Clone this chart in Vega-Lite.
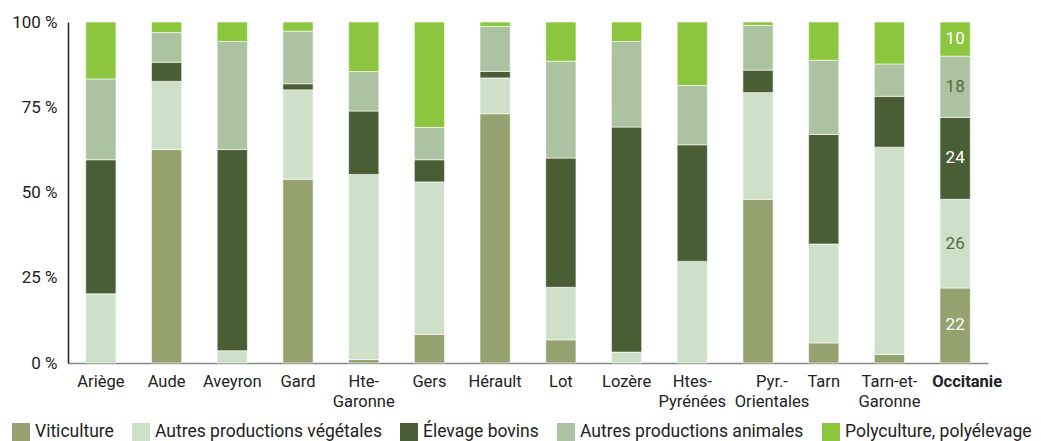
{
  "$schema": "https://vega.github.io/schema/vega-lite/v6.json",
  "width": 920,
  "height": 341,
  "autosize": {"type": "none"},
  "padding": {"left": 68, "top": 22, "right": 53, "bottom": 78},
  "config": {"view": {"stroke": null}, "font": "Roboto"},
  "data": {"values": [
    {"r": "Ariège", "c": "Autres productions végétales", "o": 2, "v": 20.3},
    {"r": "Ariège", "c": "Élevage bovins", "o": 3, "v": 39.3},
    {"r": "Ariège", "c": "Autres productions animales", "o": 4, "v": 23.7},
    {"r": "Ariège", "c": "Polyculture, polyélevage", "o": 5, "v": 16.7},
    {"r": "Aude", "c": "Viticulture", "o": 1, "v": 62.6},
    {"r": "Aude", "c": "Autres productions végétales", "o": 2, "v": 20.0},
    {"r": "Aude", "c": "Élevage bovins", "o": 3, "v": 5.6},
    {"r": "Aude", "c": "Autres productions animales", "o": 4, "v": 8.7},
    {"r": "Aude", "c": "Polyculture, polyélevage", "o": 5, "v": 3.1},
    {"r": "Aveyron", "c": "Autres productions végétales", "o": 2, "v": 3.6},
    {"r": "Aveyron", "c": "Élevage bovins", "o": 3, "v": 59.0},
    {"r": "Aveyron", "c": "Autres productions animales", "o": 4, "v": 31.7},
    {"r": "Aveyron", "c": "Polyculture, polyélevage", "o": 5, "v": 5.7},
    {"r": "Gard", "c": "Viticulture", "o": 1, "v": 53.9},
    {"r": "Gard", "c": "Autres productions végétales", "o": 2, "v": 26.2},
    {"r": "Gard", "c": "Élevage bovins", "o": 3, "v": 1.8},
    {"r": "Gard", "c": "Autres productions animales", "o": 4, "v": 15.4},
    {"r": "Gard", "c": "Polyculture, polyélevage", "o": 5, "v": 2.7},
    {"r": "Hte-Garonne", "c": "Viticulture", "o": 1, "v": 1.0},
    {"r": "Hte-Garonne", "c": "Autres productions végétales", "o": 2, "v": 54.3},
    {"r": "Hte-Garonne", "c": "Élevage bovins", "o": 3, "v": 18.6},
    {"r": "Hte-Garonne", "c": "Autres productions animales", "o": 4, "v": 11.6},
    {"r": "Hte-Garonne", "c": "Polyculture, polyélevage", "o": 5, "v": 14.5},
    {"r": "Gers", "c": "Viticulture", "o": 1, "v": 8.4},
    {"r": "Gers", "c": "Autres productions végétales", "o": 2, "v": 44.7},
    {"r": "Gers", "c": "Élevage bovins", "o": 3, "v": 6.5},
    {"r": "Gers", "c": "Autres productions animales", "o": 4, "v": 9.5},
    {"r": "Gers", "c": "Polyculture, polyélevage", "o": 5, "v": 30.9},
    {"r": "Hérault", "c": "Viticulture", "o": 1, "v": 73.1},
    {"r": "Hérault", "c": "Autres productions végétales", "o": 2, "v": 10.5},
    {"r": "Hérault", "c": "Élevage bovins", "o": 3, "v": 1.9},
    {"r": "Hérault", "c": "Autres productions animales", "o": 4, "v": 13.2},
    {"r": "Hérault", "c": "Polyculture, polyélevage", "o": 5, "v": 1.3},
    {"r": "Lot", "c": "Viticulture", "o": 1, "v": 6.8},
    {"r": "Lot", "c": "Autres productions végétales", "o": 2, "v": 15.4},
    {"r": "Lot", "c": "Élevage bovins", "o": 3, "v": 37.9},
    {"r": "Lot", "c": "Autres productions animales", "o": 4, "v": 28.4},
    {"r": "Lot", "c": "Polyculture, polyélevage", "o": 5, "v": 11.5},
    {"r": "Lozère", "c": "Autres productions végétales", "o": 2, "v": 3.2},
    {"r": "Lozère", "c": "Élevage bovins", "o": 3, "v": 66.0},
    {"r": "Lozère", "c": "Autres productions animales", "o": 4, "v": 25.1},
    {"r": "Lozère", "c": "Polyculture, polyélevage", "o": 5, "v": 5.7},
    {"r": "Htes-Pyrénées", "c": "Autres productions végétales", "o": 2, "v": 29.8},
    {"r": "Htes-Pyrénées", "c": "Élevage bovins", "o": 3, "v": 34.2},
    {"r": "Htes-Pyrénées", "c": "Autres productions animales", "o": 4, "v": 17.4},
    {"r": "Htes-Pyrénées", "c": "Polyculture, polyélevage", "o": 5, "v": 18.6},
    {"r": "Pyr.-Orientales", "c": "Viticulture", "o": 1, "v": 48.0},
    {"r": "Pyr.-Orientales", "c": "Autres productions végétales", "o": 2, "v": 31.3},
    {"r": "Pyr.-Orientales", "c": "Élevage bovins", "o": 3, "v": 6.6},
    {"r": "Pyr.-Orientales", "c": "Autres productions animales", "o": 4, "v": 13.1},
    {"r": "Pyr.-Orientales", "c": "Polyculture, polyélevage", "o": 5, "v": 1.0},
    {"r": "Tarn", "c": "Viticulture", "o": 1, "v": 5.9},
    {"r": "Tarn", "c": "Autres productions végétales", "o": 2, "v": 29.0},
    {"r": "Tarn", "c": "Élevage bovins", "o": 3, "v": 32.1},
    {"r": "Tarn", "c": "Autres productions animales", "o": 4, "v": 21.8},
    {"r": "Tarn", "c": "Polyculture, polyélevage", "o": 5, "v": 11.2},
    {"r": "Tarn-et-Garonne", "c": "Viticulture", "o": 1, "v": 2.5},
    {"r": "Tarn-et-Garonne", "c": "Autres productions végétales", "o": 2, "v": 60.8},
    {"r": "Tarn-et-Garonne", "c": "Élevage bovins", "o": 3, "v": 14.9},
    {"r": "Tarn-et-Garonne", "c": "Autres productions animales", "o": 4, "v": 9.5},
    {"r": "Tarn-et-Garonne", "c": "Polyculture, polyélevage", "o": 5, "v": 12.3},
    {"r": "Occitanie", "c": "Viticulture", "o": 1, "v": 22},
    {"r": "Occitanie", "c": "Autres productions végétales", "o": 2, "v": 26},
    {"r": "Occitanie", "c": "Élevage bovins", "o": 3, "v": 24},
    {"r": "Occitanie", "c": "Autres productions animales", "o": 4, "v": 18},
    {"r": "Occitanie", "c": "Polyculture, polyélevage", "o": 5, "v": 10}
  ]},
  "encoding": {
    "x": {
      "field": "r", "type": "nominal", "sort": null,
      "scale": {"paddingInner": 0.54, "paddingOuter": 0.27},
      "axis": {
        "title": null, "ticks": false, "domainColor": "#888", "domainWidth": 1.5,
        "labelAngle": 0, "labelFontSize": 16.5, "labelPadding": 10, "labelColor": "#222",
        "labelLineHeight": 20, "labelBaseline": "top", "labelOverlap": false,
        "labelExpr": "datum.label == 'Hte-Garonne' ? ['Hte-', 'Garonne'] : datum.label == 'Htes-Pyrénées' ? ['Htes-', 'Pyrénées'] : datum.label == 'Pyr.-Orientales' ? ['Pyr.-', 'Orientales'] : datum.label == 'Tarn-et-Garonne' ? ['Tarn-et-', 'Garonne'] : datum.label",
        "labelFontWeight": {"condition": {"test": "datum.value == 'Occitanie'", "value": "bold"}, "value": "normal"},
        "labelOffset": {"condition": [{"test": "datum.value == 'Occitanie'", "value": 12}, {"test": "datum.value == 'Pyr.-Orientales'", "value": 14}], "value": 0}
      }
    }
  },
  "layer": [
    {
      "mark": {"type": "bar", "stroke": "white", "strokeWidth": 0.6},
      "encoding": {
        "y": {
          "field": "v", "type": "quantitative", "stack": "normalize",
          "scale": {"domain": [0, 1]},
          "axis": {
            "title": null, "grid": false, "ticks": false, "domainColor": "#222", "domainWidth": 1.5,
            "values": [0, 0.25, 0.5, 0.75, 1],
            "labelExpr": "format(datum.value * 100, 'd') + ' %'",
            "labelFontSize": 17, "labelPadding": 11, "labelColor": "#222"
          }
        },
        "order": {"field": "o", "type": "quantitative"},
        "color": {
          "field": "c", "type": "nominal",
          "scale": {
            "domain": ["Viticulture", "Autres productions végétales", "Élevage bovins", "Autres productions animales", "Polyculture, polyélevage"],
            "range": ["#95a16e", "#cee0c8", "#4a5e36", "#abc3a0", "#8cc63f"]
          },
          "legend": {
            "title": null, "orient": "none", "legendX": -56, "legendY": 401,
            "direction": "horizontal", "symbolType": "square", "symbolSize": 324,
            "symbolStrokeWidth": 0, "labelFontSize": 17.5, "columnPadding": 18,
            "labelOffset": 5, "labelColor": "#222", "labelLimit": 400
          }
        }
      }
    },
    {
      "transform": [
        {"filter": "datum.r == 'Occitanie'"},
        {"stack": "v", "groupby": ["r"], "sort": [{"field": "o", "order": "ascending"}], "offset": "normalize", "as": ["v0", "v1"]},
        {"calculate": "(datum.v0 + datum.v1) / 2", "as": "mid"}
      ],
      "mark": {"type": "text", "fontSize": 17, "baseline": "middle"},
      "encoding": {
        "y": {"field": "mid", "type": "quantitative"},
        "text": {"field": "v", "type": "quantitative", "format": ".0f"},
        "color": {
          "condition": {"test": "datum.c == 'Autres productions végétales' || datum.c == 'Autres productions animales'", "value": "#56693f"},
          "value": "white"
        }
      }
    }
  ]
}
